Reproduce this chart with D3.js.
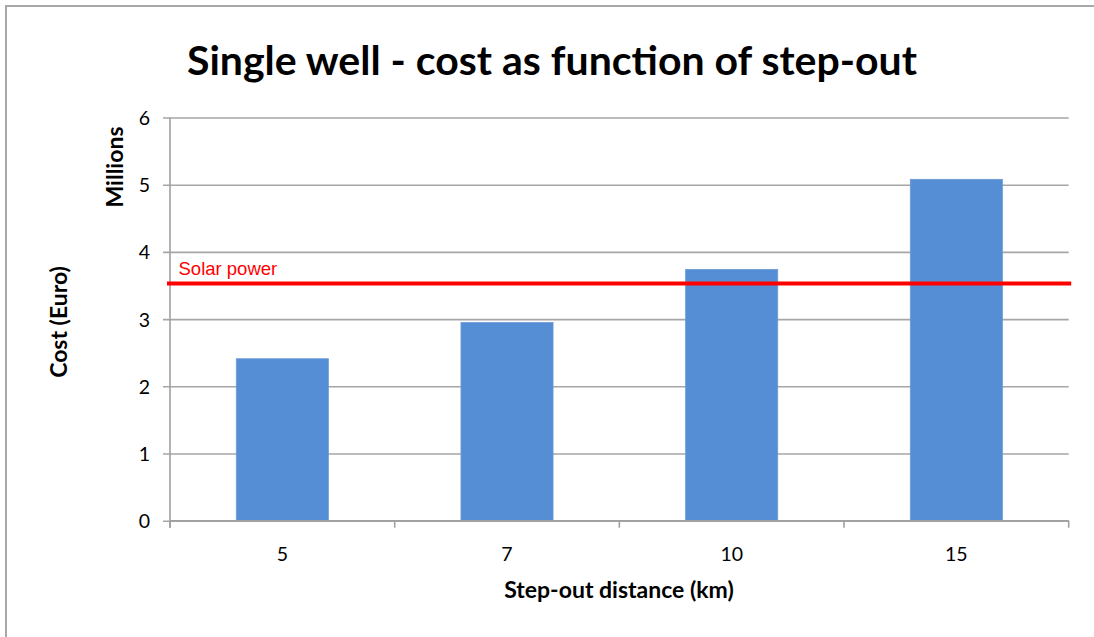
<!DOCTYPE html>
<html>
<head>
<meta charset="utf-8">
<script src="https://cdn.jsdelivr.net/npm/d3@7"></script>
<style>
  html, body { margin: 0; padding: 0; background: #fff; }
  svg { display: block; }
</style>
</head>
<body>
<svg id="chart" width="1094" height="637"></svg>
<script>
// Step-out distances (km) and single-well cost (millions of euro)
const categories = ["5", "7", "10", "15"];
const costMillions = [2.41, 2.95, 3.74, 5.08];
const solarPowerCost = 3.53;
const yTicks = [0, 1, 2, 3, 4, 5, 6];

const titleText = "Single well - cost as function of step-out";
const yTitle = "Cost (Euro)";
const yUnitLabel = "Millions";
const xTitle = "Step-out distance (km)";
const solarLabel = "Solar power";

const svg = d3.select("#chart");
const labelFont = "Lato, 'Open Sans', sans-serif";

// outer chart frame (open to the right and bottom)
svg.append("rect")
  .attr("x", 6).attr("y", 6)
  .attr("width", 1110).attr("height", 650)
  .attr("fill", "#fff")
  .attr("stroke", "#a8a8a8")
  .attr("stroke-width", 2);

const plot = { left: 170, right: 1068.7, top: 117.5, bottom: 520.7 };

const x = d3.scaleBand()
  .domain(categories)
  .range([plot.left, plot.right])
  .paddingInner(0).paddingOuter(0);

const y = d3.scaleLinear()
  .domain([0, 6])
  .range([plot.bottom, plot.top]);

// horizontal gridlines (extending through the outward tick marks)
const grid = svg.append("g")
  .attr("transform", `translate(${plot.left - 7},0)`)
  .call(d3.axisRight(y).tickValues(yTicks).tickSize(plot.right - plot.left + 7).tickFormat(""));
grid.select(".domain").remove();
grid.selectAll(".tick line").attr("stroke", "#a6a6a6").attr("stroke-width", 1.6);

// y axis labels
const yAxis = svg.append("g")
  .attr("transform", `translate(${plot.left},0)`)
  .call(d3.axisLeft(y).tickValues(yTicks).tickSize(7).tickPadding(13).tickFormat(d3.format("d")));
yAxis.select(".domain").remove();
yAxis.selectAll(".tick line").remove();
yAxis.selectAll(".tick text")
  .attr("font-family", labelFont)
  .attr("font-size", 19.5)
  .attr("fill", "#000")
  .attr("dy", "0.36em");

// vertical axis line
svg.append("line")
  .attr("x1", plot.left).attr("x2", plot.left)
  .attr("y1", plot.top).attr("y2", plot.bottom + 7)
  .attr("stroke", "#a0a0a0").attr("stroke-width", 1.6);

// bars
const barW = x.bandwidth() * 0.41;
svg.append("g").selectAll("rect")
  .data(categories.map((c, i) => ({ c, v: costMillions[i] })))
  .join("rect")
  .attr("x", d => x(d.c) + (x.bandwidth() - barW) / 2)
  .attr("width", barW)
  .attr("y", d => y(d.v))
  .attr("height", d => y(0) - y(d.v))
  .attr("fill", "#558ed5")
  .attr("stroke", "#6d9bd8")
  .attr("stroke-width", 0.8);

// x axis: baseline, category boundary ticks, centred labels
const xAxis = svg.append("g")
  .attr("transform", `translate(0,${plot.bottom})`)
  .call(d3.axisBottom(x).tickSize(0).tickPadding(0));
xAxis.select(".domain").remove();
xAxis.selectAll(".tick text")
  .attr("font-family", labelFont)
  .attr("font-size", 19.5)
  .attr("fill", "#000")
  .attr("y", 40)
  .attr("dy", 0);

svg.append("line")
  .attr("x1", plot.left).attr("x2", plot.right)
  .attr("y1", plot.bottom).attr("y2", plot.bottom)
  .attr("stroke", "#a0a0a0").attr("stroke-width", 1.6);

const boundaries = categories.map(c => x(c)).concat([x(categories[categories.length - 1]) + x.bandwidth()]);
svg.append("g").selectAll("line")
  .data(boundaries)
  .join("line")
  .attr("x1", d => d).attr("x2", d => d)
  .attr("y1", plot.bottom).attr("y2", plot.bottom + 7)
  .attr("stroke", "#a0a0a0").attr("stroke-width", 1.6);

// solar power reference line
svg.append("line")
  .attr("x1", plot.left - 3).attr("x2", plot.right + 2.5)
  .attr("y1", y(solarPowerCost)).attr("y2", y(solarPowerCost))
  .attr("stroke", "#ff0000").attr("stroke-width", 4);

svg.append("text")
  .attr("x", 178.5)
  .attr("y", y(solarPowerCost) - 8.5)
  .attr("font-family", "'Liberation Sans', Arial, sans-serif")
  .attr("font-size", 18.5)
  .attr("fill", "#ff0000")
  .text(solarLabel);

// title
svg.append("text")
  .attr("x", 552).attr("y", 75)
  .attr("text-anchor", "middle")
  .attr("font-family", labelFont)
  .attr("font-weight", "bold")
  .attr("font-size", 41)
  .attr("fill", "#000")
  .text(titleText);

// axis titles
svg.append("text")
  .attr("transform", "translate(67,322) rotate(-90)")
  .attr("text-anchor", "middle")
  .attr("font-family", labelFont)
  .attr("font-weight", "bold")
  .attr("font-size", 23)
  .attr("fill", "#000")
  .text(yTitle);

svg.append("text")
  .attr("transform", "translate(123,167) rotate(-90)")
  .attr("text-anchor", "middle")
  .attr("font-family", labelFont)
  .attr("font-weight", "bold")
  .attr("font-size", 23)
  .attr("fill", "#000")
  .text(yUnitLabel);

svg.append("text")
  .attr("x", 619).attr("y", 598)
  .attr("text-anchor", "middle")
  .attr("font-family", labelFont)
  .attr("font-weight", "bold")
  .attr("font-size", 23)
  .attr("fill", "#000")
  .text(xTitle);
</script>
</body>
</html>
